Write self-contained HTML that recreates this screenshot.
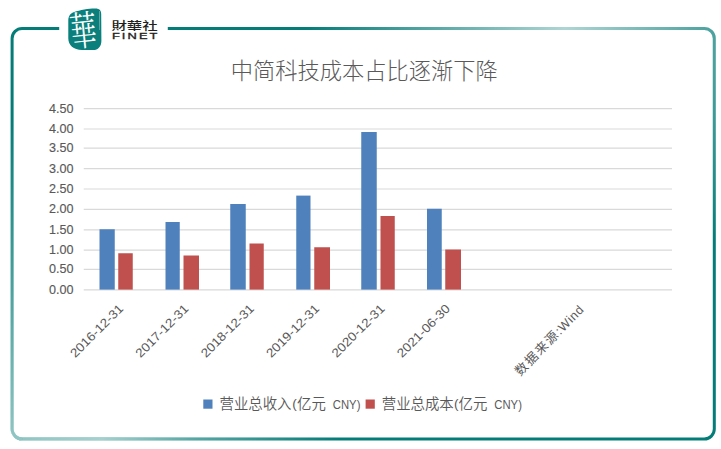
<!DOCTYPE html>
<html lang="zh"><head><meta charset="utf-8"><title>中简科技成本占比逐渐下降</title>
<style>
html,body{margin:0;padding:0;background:#fff;}
body{width:721px;height:449px;overflow:hidden;font-family:"Liberation Sans","Noto Sans CJK SC",sans-serif;}
svg{display:block}
.ax{font-family:"Liberation Sans","Noto Sans CJK SC",sans-serif;fill:#595959;}
.n{stroke:#595959;stroke-width:0.14px;}
</style></head><body>
<svg width="721" height="449" viewBox="0 0 721 449">
<defs>
<radialGradient id="h1" cx="565" cy="28" r="260" gradientUnits="userSpaceOnUse">
<stop offset="0" stop-color="#fff" stop-opacity="0.68"/><stop offset="0.25" stop-color="#fff" stop-opacity="0.5"/><stop offset="0.6" stop-color="#fff" stop-opacity="0.27"/><stop offset="1" stop-color="#fff" stop-opacity="0"/>
</radialGradient>
<linearGradient id="l1" x1="0" y1="120" x2="0" y2="439" gradientUnits="userSpaceOnUse">
<stop offset="0" stop-color="#fff" stop-opacity="0"/><stop offset="0.55" stop-color="#fff" stop-opacity="0.3"/><stop offset="1" stop-color="#fff" stop-opacity="0.56"/>
</linearGradient>
<linearGradient id="l2" x1="22" y1="0" x2="340" y2="0" gradientUnits="userSpaceOnUse">
<stop offset="0" stop-color="#fff" stop-opacity="0.56"/><stop offset="0.25" stop-color="#fff" stop-opacity="0.64"/><stop offset="0.55" stop-color="#fff" stop-opacity="0.32"/><stop offset="1" stop-color="#fff" stop-opacity="0"/>
</linearGradient>
</defs>
<rect width="721" height="449" fill="#fff"/>

<path d="M59.2 28.4 H22.1 A10 10 0 0 0 12.1 38.4 V429.1 A10 10 0 0 0 22.1 439.1 H704.3 A10 10 0 0 0 714.3 429.1 V38.4 A10 10 0 0 0 704.3 28.4 H167.8" fill="none" stroke="#047c78" stroke-width="3"/>
<path d="M59.2 28.4 H22.1 A10 10 0 0 0 12.1 38.4 V429.1 A10 10 0 0 0 22.1 439.1 H704.3 A10 10 0 0 0 714.3 429.1 V38.4 A10 10 0 0 0 704.3 28.4 H167.8" fill="none" stroke="url(#h1)" stroke-width="3.4"/>
<path d="M12.1 120 V429.1 A10 10 0 0 0 22.1 439.1" fill="none" stroke="url(#l1)" stroke-width="3.4"/>
<path d="M22.1 439.1 H340" fill="none" stroke="url(#l2)" stroke-width="3.4"/>
<path d="M74.2 12 C80 10 90 8.3 95.4 8.5 C99.5 8.6 101.2 10.5 101.2 14 L101.4 40.7 C101.4 46.5 98 50 93.2 50 L82 50 C73.5 50 68.3 45 68.3 38.5 L68.3 20.7 C68.3 16 70.5 13.2 74.2 12 Z" fill="#0a7f7c"/>
<line x1="99.4" y1="11" x2="99.7" y2="30" stroke="#fff" stroke-width="0.5" opacity="0.7"/>
<text lang="zh-TW" transform="translate(84.9,45.3) rotate(-6) scale(0.76,1.16)" text-anchor="middle" font-family="'Liberation Serif','Noto Serif CJK TC','Noto Serif CJK SC',serif" font-weight="400" font-size="35" fill="#fff">華</text>
<text lang="zh-TW" x="111.4" y="29.8" font-family="'Liberation Sans','Noto Sans CJK TC',sans-serif" font-weight="500" font-size="11.5" fill="#231f20" textLength="46.3" lengthAdjust="spacingAndGlyphs">財華社</text>
<text transform="translate(111.9,38.5) scale(1.55,1)" font-family="'Liberation Sans',sans-serif" font-weight="400" font-size="8.3" fill="#231f20" stroke="#231f20" stroke-width="0.3" letter-spacing="1.35">FINET</text>
<text x="364.3" y="79.4" text-anchor="middle" font-family="'Liberation Sans','Noto Sans CJK SC',sans-serif" font-weight="300" font-size="22.25" fill="#595959">中简科技成本占比逐渐下降</text>
<line x1="83.75" y1="289.80" x2="672.00" y2="289.80" stroke="#d9d9d9" stroke-width="1.2"/>
<text class="ax n" x="73.6" y="293.70" text-anchor="end" font-size="12.4" textLength="24.5" lengthAdjust="spacingAndGlyphs">0.00</text>
<line x1="83.75" y1="269.40" x2="672.00" y2="269.40" stroke="#d9d9d9" stroke-width="1.2"/>
<text class="ax n" x="73.6" y="273.30" text-anchor="end" font-size="12.4" textLength="24.5" lengthAdjust="spacingAndGlyphs">0.50</text>
<line x1="83.75" y1="250.20" x2="672.00" y2="250.20" stroke="#d9d9d9" stroke-width="1.2"/>
<text class="ax n" x="73.6" y="254.10" text-anchor="end" font-size="12.4" textLength="24.5" lengthAdjust="spacingAndGlyphs">1.00</text>
<line x1="83.75" y1="229.80" x2="672.00" y2="229.80" stroke="#d9d9d9" stroke-width="1.2"/>
<text class="ax n" x="73.6" y="233.70" text-anchor="end" font-size="12.4" textLength="24.5" lengthAdjust="spacingAndGlyphs">1.50</text>
<line x1="83.75" y1="209.40" x2="672.00" y2="209.40" stroke="#d9d9d9" stroke-width="1.2"/>
<text class="ax n" x="73.6" y="213.30" text-anchor="end" font-size="12.4" textLength="24.5" lengthAdjust="spacingAndGlyphs">2.00</text>
<line x1="83.75" y1="189.00" x2="672.00" y2="189.00" stroke="#d9d9d9" stroke-width="1.2"/>
<text class="ax n" x="73.6" y="192.90" text-anchor="end" font-size="12.4" textLength="24.5" lengthAdjust="spacingAndGlyphs">2.50</text>
<line x1="83.75" y1="168.60" x2="672.00" y2="168.60" stroke="#d9d9d9" stroke-width="1.2"/>
<text class="ax n" x="73.6" y="172.50" text-anchor="end" font-size="12.4" textLength="24.5" lengthAdjust="spacingAndGlyphs">3.00</text>
<line x1="83.75" y1="148.20" x2="672.00" y2="148.20" stroke="#d9d9d9" stroke-width="1.2"/>
<text class="ax n" x="73.6" y="152.10" text-anchor="end" font-size="12.4" textLength="24.5" lengthAdjust="spacingAndGlyphs">3.50</text>
<line x1="83.75" y1="129.00" x2="672.00" y2="129.00" stroke="#d9d9d9" stroke-width="1.2"/>
<text class="ax n" x="73.6" y="132.90" text-anchor="end" font-size="12.4" textLength="24.5" lengthAdjust="spacingAndGlyphs">4.00</text>
<line x1="83.75" y1="108.60" x2="672.00" y2="108.60" stroke="#d9d9d9" stroke-width="1.2"/>
<text class="ax n" x="73.6" y="112.50" text-anchor="end" font-size="12.4" textLength="24.5" lengthAdjust="spacingAndGlyphs">4.50</text>
<rect x="99.50" y="229.25" width="15.25" height="60.35" fill="#4f81bd"/>
<rect x="118.25" y="253.25" width="14.50" height="36.35" fill="#c0504d"/>
<text class="ax" transform="translate(124.03,309.4) rotate(-45)" text-anchor="end" font-size="12.4" textLength="69" lengthAdjust="spacingAndGlyphs">2016-12-31</text>
<rect x="165.50" y="222.00" width="14.25" height="67.60" fill="#4f81bd"/>
<rect x="183.50" y="255.50" width="15.50" height="34.10" fill="#c0504d"/>
<text class="ax" transform="translate(189.39,309.4) rotate(-45)" text-anchor="end" font-size="12.4" textLength="69" lengthAdjust="spacingAndGlyphs">2017-12-31</text>
<rect x="230.25" y="204.00" width="15.50" height="85.60" fill="#4f81bd"/>
<rect x="249.50" y="243.50" width="14.25" height="46.10" fill="#c0504d"/>
<text class="ax" transform="translate(254.75,309.4) rotate(-45)" text-anchor="end" font-size="12.4" textLength="69" lengthAdjust="spacingAndGlyphs">2018-12-31</text>
<rect x="296.25" y="195.60" width="14.25" height="94.00" fill="#4f81bd"/>
<rect x="314.25" y="247.25" width="15.75" height="42.35" fill="#c0504d"/>
<text class="ax" transform="translate(320.11,309.4) rotate(-45)" text-anchor="end" font-size="12.4" textLength="69" lengthAdjust="spacingAndGlyphs">2019-12-31</text>
<rect x="361.25" y="132.00" width="15.50" height="157.60" fill="#4f81bd"/>
<rect x="380.50" y="216.00" width="14.25" height="73.60" fill="#c0504d"/>
<text class="ax" transform="translate(385.48,309.4) rotate(-45)" text-anchor="end" font-size="12.4" textLength="69" lengthAdjust="spacingAndGlyphs">2020-12-31</text>
<rect x="427.00" y="208.75" width="14.75" height="80.85" fill="#4f81bd"/>
<rect x="445.25" y="249.50" width="15.75" height="40.10" fill="#c0504d"/>
<text class="ax" transform="translate(450.84,309.4) rotate(-45)" text-anchor="end" font-size="12.4" textLength="69" lengthAdjust="spacingAndGlyphs">2021-06-30</text>
<text class="ax" transform="translate(584.86,310) rotate(-45.8)" text-anchor="end" font-size="12.4"><tspan font-size="12.8" letter-spacing="1.6">数据来源</tspan><tspan letter-spacing="0.7">:Wind</tspan></text>
<rect x="203.3" y="399.5" width="9.2" height="9.2" fill="#4f81bd"/>
<text class="ax" x="219.5" y="409.3" font-size="14.4" font-weight="350">营业总收入</text>
<text class="ax" x="292.3" y="408.4" font-size="13.5">(</text>
<text class="ax" x="297.1" y="409.2" font-size="14.4" font-weight="350">亿元</text>
<text class="ax" x="332.8" y="408.6" font-size="13.2" textLength="27.6" lengthAdjust="spacingAndGlyphs">CNY)</text>
<rect x="365.6" y="399.5" width="9.2" height="9.2" fill="#c0504d"/>
<text class="ax" x="381.8" y="409.3" font-size="14.4" font-weight="350">营业总成本</text>
<text class="ax" x="454.1" y="408.4" font-size="13.5">(</text>
<text class="ax" x="458.6" y="409.2" font-size="14.4" font-weight="350">亿元</text>
<text class="ax" x="494.3" y="408.6" font-size="13.2" textLength="27.6" lengthAdjust="spacingAndGlyphs">CNY)</text>
</svg></body></html>
